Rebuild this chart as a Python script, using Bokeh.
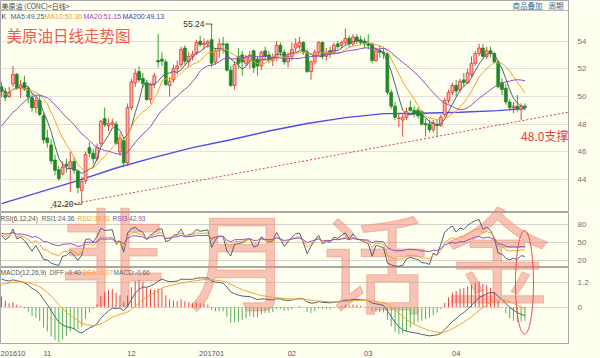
import numpy as np
from bokeh.plotting import figure
from bokeh.layouts import column
from bokeh.models import ColumnDataSource, FixedTicker, Range1d
from bokeh.core.properties import value
from bokeh.embed import file_html
from bokeh.resources import INLINE

# ---------------- data (daily bars) ----------------
# closes before the first visible bar, only used to warm up the indicators
prior_closes = [45.74, 46.58, 46.79, 48.22, 48.52, 47.05, 48.10, 46.77, 47.33, 47.64,
                46.98, 46.35, 44.70, 43.16, 44.44, 44.83, 45.50, 47.62, 45.88, 46.29,
                44.90, 43.58, 43.91, 43.03, 43.30, 43.44, 45.34, 46.32, 44.48, 45.93,
                44.67, 47.05, 47.83, 48.24, 48.81, 48.69, 49.83, 50.44, 49.81, 51.35,
                50.79, 50.18, 50.44]

opens = [50.70, 50.35, 50.00, 50.90, 51.60, 50.60, 51.00, 50.60, 49.90, 49.20,
         49.70, 48.60, 47.00, 46.50, 45.40, 44.70, 44.40, 45.10, 44.80, 45.30,
         44.60, 43.20, 43.90, 46.30, 45.90, 45.50, 46.60, 48.40, 47.90, 48.00,
         48.00, 46.00, 46.80, 45.20, 49.20, 51.00, 51.80, 51.30, 51.00, 49.80,
         50.90, 52.60, 52.70, 52.50, 50.80, 51.20, 52.00, 52.30, 53.50, 52.50,
         52.90, 53.10, 54.00, 53.75, 53.80, 54.10, 52.50, 53.30, 53.80, 53.80,
         51.90, 50.80, 52.90, 53.00, 52.40, 52.60, 53.30, 52.70, 52.20, 53.30,
         53.00, 52.60, 52.80, 53.70, 53.20, 52.50, 52.90, 53.50, 53.60, 53.90,
         53.20, 51.80, 52.50, 53.20, 53.90, 52.90, 53.30, 53.20, 53.80, 53.70,
         53.90, 54.20, 53.80, 54.30, 54.10, 54.00, 53.80, 53.80, 52.60, 53.30,
         53.20, 53.10, 50.30, 49.30, 48.40, 48.30, 48.50, 49.20, 49.00, 49.00,
         48.90, 48.05, 48.00, 47.60, 48.00, 47.90, 48.70, 49.70, 50.30, 50.80,
         50.50, 51.20, 51.00, 51.60, 52.40, 53.10, 53.50, 52.90, 53.30, 53.10,
         52.50, 51.00, 50.60, 49.60, 49.20, 49.30, 49.10, 49.30]

highs = [51.05, 50.60, 50.70, 52.20, 51.70, 51.20, 51.50, 50.70, 50.20, 50.00,
         50.10, 48.80, 47.60, 46.90, 45.80, 45.00, 45.30, 45.50, 46.00, 45.60,
         44.70, 44.20, 46.00, 46.70, 46.20, 46.60, 48.30, 49.20, 48.40, 48.40,
         48.20, 47.30, 47.00, 49.50, 51.30, 52.00, 52.20, 51.70, 51.20, 51.00,
         51.70, 54.51, 53.20, 52.70, 51.40, 52.30, 52.60, 53.60, 53.70, 53.20,
         53.30, 54.10, 54.40, 54.20, 54.10, 55.24, 53.50, 54.20, 54.30, 53.90,
         52.20, 52.50, 53.50, 53.30, 53.00, 53.30, 53.40, 52.90, 53.30, 53.60,
         53.30, 53.10, 54.00, 53.90, 53.40, 53.20, 53.90, 54.20, 54.30, 54.00,
         53.40, 52.60, 53.40, 54.00, 54.00, 53.50, 53.60, 53.90, 54.00, 54.00,
         54.90, 54.40, 54.50, 54.50, 54.40, 54.20, 54.50, 53.90, 53.50, 53.70,
         53.50, 53.20, 50.50, 49.60, 48.80, 48.80, 49.20, 49.70, 49.30, 49.20,
         49.00, 48.40, 48.30, 48.30, 48.30, 48.70, 49.90, 50.50, 51.00, 51.20,
         51.30, 51.70, 52.00, 52.90, 53.30, 53.80, 53.80, 53.60, 53.60, 53.20,
         52.60, 51.30, 50.90, 49.80, 49.60, 50.10, 49.50, 49.50]

lows = [49.95, 49.65, 49.90, 50.70, 50.50, 49.90, 50.40, 49.50, 48.90, 48.80,
        48.60, 46.60, 46.30, 45.10, 44.30, 43.90, 44.30, 44.50, 43.10, 44.40,
        43.00, 42.20, 43.70, 45.60, 45.10, 45.30, 46.40, 47.80, 47.50, 47.80,
        46.50, 45.70, 44.90, 45.00, 49.00, 50.70, 51.00, 50.60, 49.70, 49.50,
        50.60, 52.10, 52.20, 50.80, 50.00, 51.00, 51.60, 52.10, 52.30, 52.10,
        52.60, 53.00, 53.60, 53.40, 53.50, 52.10, 52.30, 52.80, 53.10, 51.80,
        50.70, 50.50, 52.00, 51.50, 52.20, 52.00, 51.70, 51.50, 51.90, 52.60,
        52.40, 52.20, 52.60, 52.90, 52.30, 52.10, 52.60, 53.20, 53.40, 53.00,
        51.70, 51.20, 52.30, 53.00, 52.70, 52.60, 52.80, 53.00, 53.40, 53.50,
        53.70, 53.50, 53.60, 53.80, 53.70, 53.50, 53.40, 52.40, 52.50, 52.80,
        52.70, 50.10, 49.10, 48.30, 47.80, 47.10, 48.30, 48.90, 48.50, 48.40,
        47.90, 47.10, 47.40, 47.40, 47.10, 47.80, 48.50, 49.50, 50.10, 50.00,
        50.30, 50.70, 50.90, 51.40, 52.20, 52.90, 52.80, 52.70, 52.80, 52.40,
        50.60, 50.10, 49.40, 49.00, 48.80, 48.90, 48.30, 49.00]

closes = [50.35, 49.94, 50.29, 51.60, 50.63, 50.85, 50.52, 49.96, 49.18, 49.72,
          48.70, 46.86, 46.67, 45.34, 44.66, 44.07, 44.89, 44.98, 45.27, 44.66,
          43.41, 43.85, 45.81, 45.90, 45.50, 46.30, 48.20, 47.95, 48.03, 48.10,
          46.60, 47.00, 45.20, 49.20, 51.06, 51.68, 51.20, 50.93, 49.77, 50.84,
          51.50, 52.50, 52.55, 50.85, 51.10, 52.00, 52.20, 53.40, 52.55, 52.90,
          53.05, 53.90, 53.75, 53.85, 53.95, 52.40, 53.30, 53.80, 53.75, 51.90,
          50.80, 52.30, 52.40, 52.50, 52.80, 53.00, 52.10, 52.20, 53.20, 52.90,
          52.70, 52.80, 53.70, 53.20, 52.50, 52.90, 53.40, 53.80, 53.90, 53.20,
          51.80, 52.50, 53.20, 53.90, 52.90, 53.20, 53.10, 53.70, 53.60, 53.90,
          54.20, 53.80, 54.30, 54.00, 53.90, 53.80, 53.70, 52.60, 53.30, 53.20,
          53.10, 50.30, 49.30, 48.50, 48.45, 48.50, 48.90, 49.00, 48.80, 48.60,
          48.00, 47.95, 47.60, 48.10, 47.90, 48.50, 49.70, 50.30, 50.80, 50.40,
          51.10, 51.00, 51.70, 52.40, 53.10, 53.50, 52.90, 53.30, 53.10, 52.50,
          50.70, 50.50, 49.60, 49.20, 49.30, 49.10, 49.30, 49.20]

ma200_bars = [0, 10, 20, 30, 40, 50, 60, 70, 80, 90, 100, 110, 120, 130, 137]
ma200_values = [42.25, 43.08, 43.92, 44.83, 45.60, 46.30, 46.87, 47.50, 48.05, 48.47,
                48.76, 48.79, 48.86, 48.98, 49.13]

month_tick_bars = [2.4, 12, 34, 55, 76, 96, 119]
month_labels = ["201610", "11", "12", "201701", "02", "03", "04"]
price_ticks = [44, 46, 48, 50, 52, 54]
rsi_ticks = [20, 50, 80]
macd_ticks = [0, 1.2]

ma_names = ["MA5", "MA10", "MA20", "MA200"]
ma_last = ["49.25", "50.36", "51.15", "49.13"]
rsi_names = ["RSI1", "RSI2", "RSI3"]
rsi_last = ["24.36", "36.81", "42.93"]
macd_names = ["DIFF", "DEA", "MACD"]
macd_last = ["-0.40", "-0.07", "-0.66"]

high_bar, high_val = 55, 55.24
low_bar, low_val = 21, 42.20
support_bars = [12.8, 148.4]
support_vals = [41.94, 48.87]
support_text = "48.0支撑"
support_text_bar, support_text_val = 136, 47.2
watermark_chars = ["非", "月", "话", "金"]

# ---------------- indicators ----------------
N = len(closes)
P = len(prior_closes)
allc = np.array(prior_closes + closes, dtype=float)


def ma(n):
    cc = np.convolve(allc, np.ones(n) / n, mode="valid")
    return cc[P - n + 1:].tolist()


def cn_sma(x, n):
    out = np.empty(len(x))
    out[0] = x[0]
    for i in range(1, len(x)):
        out[i] = (x[i] + (n - 1) * out[i - 1]) / n
    return out


d = np.diff(allc)


def rsi(n):
    r = cn_sma(np.maximum(d, 0), n) / cn_sma(np.abs(d), n) * 100
    return r[P - 1:].tolist()


def ema(x, n):
    a = 2.0 / (n + 1)
    out = np.empty(len(x))
    out[0] = x[0]
    for i in range(1, len(x)):
        out[i] = a * x[i] + (1 - a) * out[i - 1]
    return out


diff_all = ema(allc, 12) - ema(allc, 26)
dea_all = ema(diff_all, 9)
diff = diff_all[P:]
dea = dea_all[P:]
macd = 2 * (diff - dea)

# ---------------- styling / layout ----------------
BG = "#FFFFF0"
RED = "#E8403A"
PINK = "#F7B4AE"
GREEN = "#1E8A22"
GREEN_W = "#3A9E3A"
C_SLATE = "#4E6278"
C_ORANGE = "#F5A030"
C_PURPLE = "#9050B8"
C_BLUE = "#4C4CF0"
FONT = "Liberation Sans"
CJK = "Noto Sans CJK SC"

X0, X1 = -0.26, 148.4
FRAME_W = 568
# lo, hi, reference top px, reference bottom px, own frame height px
PRICE_R = (41.61, 56.94, 0, 212, 212)
RSI_R = (8.3, 100.0, 212, 267, 55)
MACD_R = (-1.745, 1.91, 267, 348, 80)


def px_bar(px):
    return float(X0 + px / FRAME_W * (X1 - X0))


def py_val(py, r):
    lo, hi, top, bot, _ = r
    return float(hi - (py - top) / (bot - top) * (hi - lo))


xr = Range1d(X0, X1)


def make_fig(h, r, ticks, xloc, grid_color):
    p = figure(width=600, height=h, x_range=xr, y_range=Range1d(r[0], r[1]),
               output_backend="svg", toolbar_location=None,
               x_axis_location="below", y_axis_location="right",
               min_border_left=0, min_border_right=32, min_border_top=0,
               min_border_bottom=0, background_fill_color=BG, border_fill_color=BG,
               outline_line_color="#A8A8A8")
    if not xloc:
        p.xaxis.visible = False
    ax = p.yaxis[0]
    t = FixedTicker(ticks=ticks)
    ax.ticker = t
    p.ygrid.ticker = t
    ax.axis_line_color = None
    ax.major_tick_line_color = None
    ax.minor_tick_line_color = None
    ax.major_label_text_font_size = "8px"
    ax.major_label_text_font = FONT
    ax.major_label_text_color = "#707070"
    ax.major_label_standoff = 3
    p.xgrid.visible = False
    p.ygrid.grid_line_color = grid_color
    return p


p1 = make_fig(212, PRICE_R, price_ticks, None, "#E2E2D8")
p2 = make_fig(55, RSI_R, rsi_ticks, None, "#D4D4CC")
p3 = make_fig(91, MACD_R, macd_ticks, "below", "#D8D8D0")
p3.yaxis[0].major_label_overrides = {0: "0", 1.2: "1.2"}
xa = p3.xaxis[0]
xa.ticker = FixedTicker(ticks=month_tick_bars)
xa.major_label_overrides = {t: l for t, l in zip(month_tick_bars, month_labels)}
xa.axis_line_color = None
xa.major_tick_line_color = None
xa.minor_tick_line_color = None
xa.major_label_text_font_size = "7.5px"
xa.major_label_text_font = FONT
xa.major_label_text_color = "#555555"
xa.major_label_standoff = 1


def add_text(fig, r, px, py, txt, size, color, font=FONT, align="left", alpha=1.0,
             outline=None):
    """Place a text at a reference-pixel position; the anchor is kept inside
    the frame and the rest is given as a screen offset."""
    lo, hi, top, bot, own_h = r
    pyc = min(max(py, top + 1), bot - 1)
    scale = own_h / (bot - top)
    kw = {}
    if outline:
        kw["text_outline_color"] = outline
    fig.text(x=[px_bar(px)], y=[py_val(pyc, r)], text=[txt],
             y_offset=(py - pyc) * scale,
             text_font=value(font), text_font_size=size, text_color=color,
             text_alpha=alpha, text_align=align, text_baseline="middle", **kw)


# ---------------- watermark (spans the panels, drawn first = underneath) ----------------
wm_px = [112, 240, 375, 497]
wm_py = [250, 255, 258, 250]
for fig, r in ((p1, PRICE_R), (p2, RSI_R), (p3, MACD_R)):
    for ch, cx, cy in zip(watermark_chars, wm_px, wm_py):
        add_text(fig, r, cx, cy, ch, "106px", "#F08878", font=CJK,
                 align="center", alpha=0.5, outline="#F08878")

# ---------------- price panel ----------------
idx = list(range(N))
up_i = [i for i in idx if closes[i] >= opens[i]]
dn_i = [i for i in idx if closes[i] < opens[i]]

# header separator
p1.line([X0, X1], [py_val(10, PRICE_R)] * 2, line_color="#B8B8B8", line_width=1)

p1.line(support_bars, support_vals, line_color="#D04848", line_width=1, line_dash="2 2")
p1.line(ma200_bars, ma200_values, line_color=C_BLUE, line_width=1.4)

src_up = ColumnDataSource(dict(x=up_i, hi=[highs[i] for i in up_i], lo=[lows[i] for i in up_i],
                               top=[closes[i] for i in up_i], bottom=[opens[i] for i in up_i]))
src_dn = ColumnDataSource(dict(x=dn_i, hi=[highs[i] for i in dn_i], lo=[lows[i] for i in dn_i],
                               top=[opens[i] for i in dn_i], bottom=[closes[i] for i in dn_i]))
p1.segment(x0="x", y0="lo", x1="x", y1="hi", source=src_dn, line_color=GREEN_W, line_width=1)
p1.vbar(x="x", width=0.74, top="top", bottom="bottom", source=src_dn,
        fill_color=GREEN, line_color=GREEN, line_width=0.8)
p1.segment(x0="x", y0="lo", x1="x", y1="hi", source=src_up, line_color=RED, line_width=1)
p1.vbar(x="x", width=0.74, top="top", bottom="bottom", source=src_up,
        fill_color=PINK, line_color=RED, line_width=0.9)

p1.line(idx, ma(5), line_color=C_SLATE, line_width=1)
p1.line(idx, ma(10), line_color=C_ORANGE, line_width=1)
p1.line(idx, ma(20), line_color=C_PURPLE, line_width=1)

# high / low marks
p1.segment(x0=[high_bar - 1.6], y0=[high_val], x1=[high_bar], y1=[high_val],
           line_color="#555555", line_width=1)
p1.segment(x0=[high_bar], y0=[high_val], x1=[high_bar], y1=[high_val - 0.12],
           line_color="#555555", line_width=1)
p1.text(x=[high_bar - 1.6], y=[high_val], text=["55.24"], x_offset=-1,
        text_font=value(FONT), text_font_size="8.5px", text_color="#333333",
        text_align="right", text_baseline="middle")
p1.segment(x0=[low_bar - 1.9], y0=[low_val], x1=[low_bar], y1=[low_val],
           line_color="#555555", line_width=1)
p1.text(x=[low_bar - 1.9], y=[low_val + 0.05], text=["42.20"], x_offset=-1,
        text_font=value(FONT), text_font_size="8.5px", text_color="#333333",
        text_align="right", text_baseline="middle")

p1.text(x=[support_text_bar], y=[support_text_val], text=[support_text],
        text_font=value(CJK), text_font_size="12px", text_color="#EE3B3B",
        text_align="left", text_baseline="middle")

# titles and legend
add_text(p1, PRICE_R, 6, 34, "美原油日线走势图", "15.5px", "#F05A50", font=CJK)
add_text(p1, PRICE_R, 1, 5, "美原油 (CONC)<日线>", "7px", "#444444", font=CJK)
add_text(p1, PRICE_R, 512, 5, "商品叠加", "7.5px", "#2C6A9C", font=CJK)
add_text(p1, PRICE_R, 548, 5, "周期", "7.5px", "#2C6A9C", font=CJK)

add_text(p1, PRICE_R, 1, 15.5, "K", "7px", "#333333")
for name, val, col, px in zip(ma_names, ma_last, [C_SLATE, C_ORANGE, C_PURPLE, "#3A3AC8"],
                              [10, 44, 83, 122]):
    add_text(p1, PRICE_R, px, 15.5, f"{name}:{val}", "7px", col)

# ---------------- RSI panel ----------------
p2.line(idx, rsi(6), line_color=C_SLATE, line_width=1)
p2.line(idx, rsi(12), line_color=C_ORANGE, line_width=1)
p2.line(idx, rsi(24), line_color=C_PURPLE, line_width=1)
add_text(p2, RSI_R, 0, 217.5, "RSI(6,12,24)", "6.6px", "#555555")
for name, val, col, px in zip(rsi_names, rsi_last, [C_SLATE, C_ORANGE, C_PURPLE], [41, 77, 112]):
    add_text(p2, RSI_R, px, 217.5, f"{name}:{val}", "6.6px", col)

# ---------------- MACD panel ----------------
pos_i = [i for i in idx if macd[i] >= 0]
neg_i = [i for i in idx if macd[i] < 0]
p3.segment(x0=pos_i, y0=[0.0] * len(pos_i), x1=pos_i, y1=[float(macd[i]) for i in pos_i],
           line_color="#F04040", line_width=1)
p3.segment(x0=neg_i, y0=[0.0] * len(neg_i), x1=neg_i, y1=[float(macd[i]) for i in neg_i],
           line_color="#58B058", line_width=1)
p3.line(idx, diff.tolist(), line_color=C_SLATE, line_width=1)
p3.line(idx, dea.tolist(), line_color=C_ORANGE, line_width=1)
add_text(p3, MACD_R, 0, 272, "MACD(12,26,9)", "6.6px", "#555555")
for name, val, col, px in zip(macd_names, macd_last, [C_SLATE, C_ORANGE, "#666666"], [49, 82, 113]):
    add_text(p3, MACD_R, px, 272, f"{name}:{val}", "6.6px", col)

# ---------------- hand-drawn ellipse (annotation) ----------------
t = np.linspace(0, 2 * np.pi, 120)
ex = [px_bar(524 + 9 * np.cos(a)) for a in t]
for fig, r in ((p2, RSI_R), (p3, MACD_R)):
    ey = [py_val(284 + 54 * np.sin(a), r) for a in t]
    fig.line(ex, ey, line_color="#E84848", line_width=1)

layout = column(p1, p2, p3)
open("out.html", "w").write(file_html(layout, INLINE))
